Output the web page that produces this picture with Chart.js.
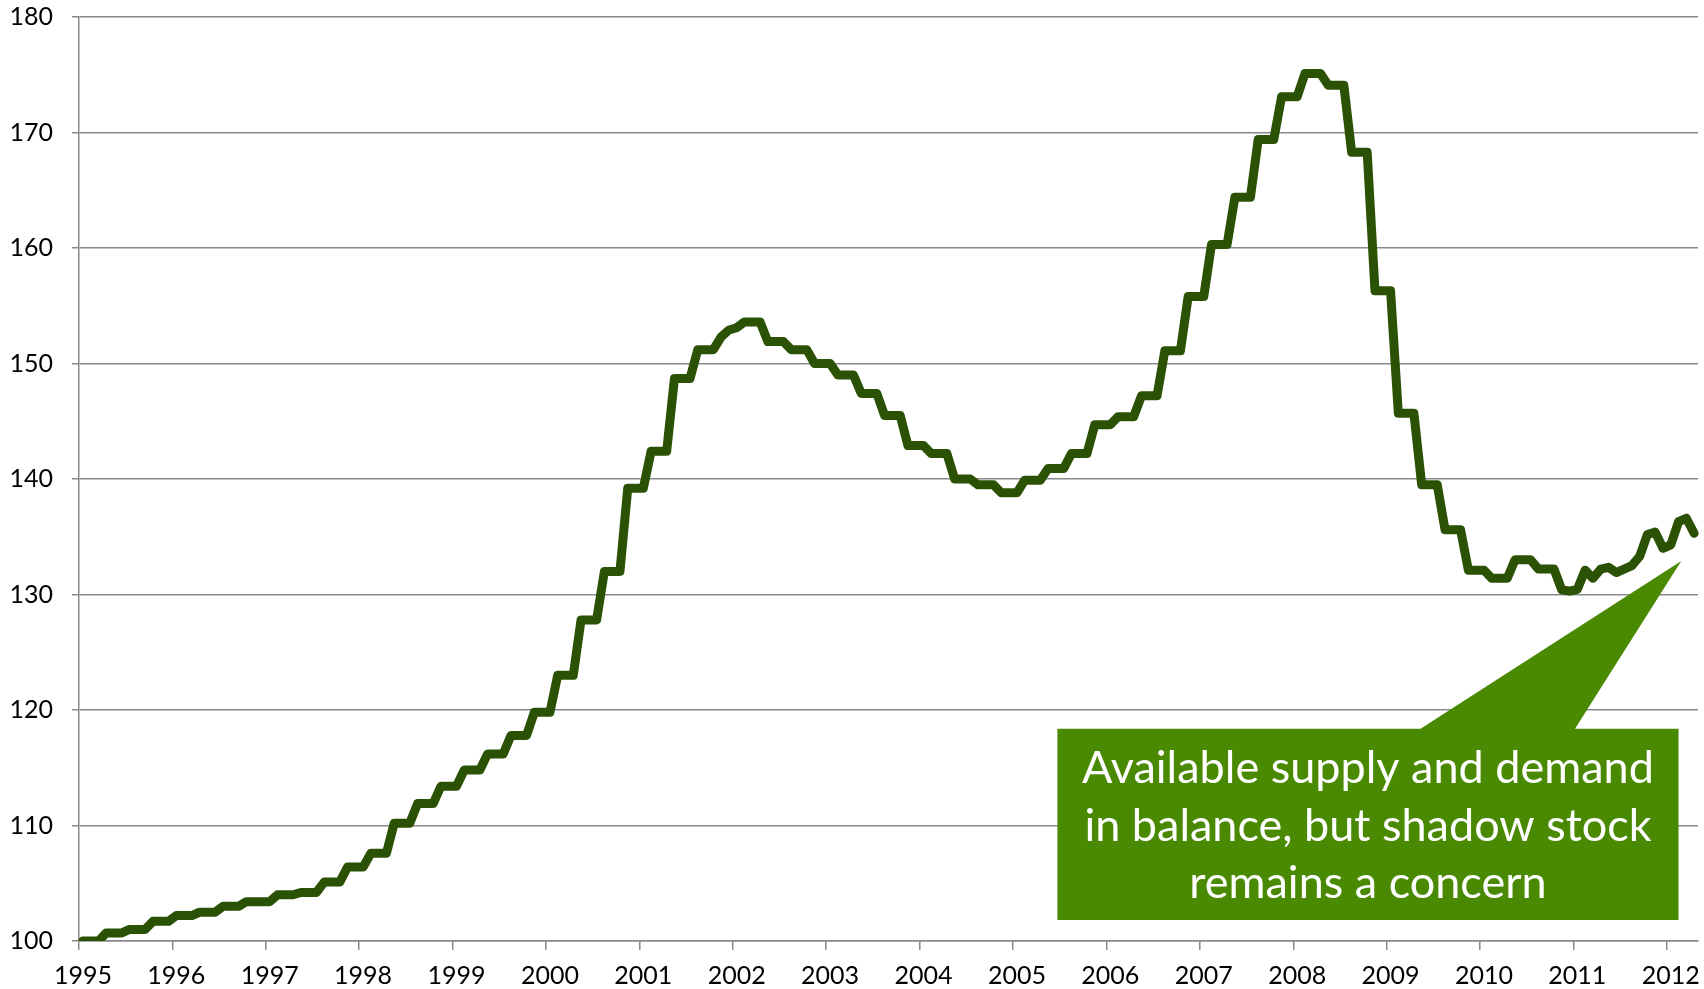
<!DOCTYPE html>
<html>
<head>
<meta charset="utf-8">
<script src="https://cdn.jsdelivr.net/npm/chart.js@4.4.1/dist/chart.umd.min.js"></script>
<style>
  html, body { margin: 0; padding: 0; background: #ffffff; }
  #wrap { width: 1704px; height: 989px; position: relative; }
</style>
</head>
<body>
<div id="wrap"><canvas id="c" width="1704" height="989"></canvas></div>
<script>
// ---- DATA ----
const years = ['1995','1996','1997','1998','1999','2000','2001','2002','2003',
               '2004','2005','2006','2007','2008','2009','2010','2011','2012'];
const monthNames = ['Jan','Feb','Mar','Apr','May','Jun','Jul','Aug','Sep','Oct','Nov','Dec'];

// Monthly index values, Jan 1995 .. Apr 2012 (208 months)
const hpi = [
  // 1995
  100.0,100.0,100.0,100.7,100.7,100.7,101.0,101.0,101.0,101.7,101.7,101.7,
  // 1996
  102.2,102.2,102.2,102.5,102.5,102.5,103.0,103.0,103.0,103.4,103.4,103.4,
  // 1997
  103.4,104.0,104.0,104.0,104.2,104.2,104.2,105.1,105.1,105.1,106.4,106.4,
  // 1998
  106.4,107.6,107.6,107.6,110.2,110.2,110.2,111.9,111.9,111.9,113.4,113.4,
  // 1999
  113.4,114.8,114.8,114.8,116.2,116.2,116.2,117.8,117.8,117.8,119.8,119.8,
  // 2000
  119.8,123.0,123.0,123.0,127.8,127.8,127.8,132.0,132.0,132.0,139.2,139.2,
  // 2001
  139.2,142.4,142.4,142.4,148.7,148.7,148.7,151.2,151.2,151.2,152.3,152.9,
  // 2002
  153.1,153.6,153.6,153.6,151.9,151.9,151.9,151.2,151.2,151.2,150.0,150.0,
  // 2003
  150.0,149.0,149.0,149.0,147.4,147.4,147.4,145.5,145.5,145.5,142.9,142.9,
  // 2004
  142.9,142.2,142.2,142.2,140.0,140.0,140.0,139.5,139.5,139.5,138.8,138.8,
  // 2005
  138.8,139.9,139.9,139.9,140.9,140.9,140.9,142.2,142.2,142.2,144.7,144.7,
  // 2006
  144.7,145.4,145.4,145.4,147.2,147.2,147.2,151.1,151.1,151.1,155.8,155.8,
  // 2007
  155.8,160.3,160.3,160.3,164.4,164.4,164.4,169.4,169.4,169.4,173.1,173.1,
  // 2008
  173.1,175.1,175.1,175.1,174.1,174.1,174.1,168.3,168.3,168.3,156.3,156.3,
  // 2009
  156.3,145.7,145.7,145.7,139.5,139.5,139.5,135.6,135.6,135.6,132.1,132.1,
  // 2010
  132.1,131.4,131.4,131.4,133.0,133.0,133.0,132.2,132.2,132.2,130.4,130.3,
  // 2011
  130.45,132.1,131.4,132.2,132.35,131.9,132.2,132.5,133.3,135.2,135.4,134.0,
  // 2012
  134.3,136.3,136.6,135.3
];

// Month categories matching the series
const categories = [];
years.forEach(y => monthNames.forEach(m => categories.push(m + ' ' + y)));
categories.length = hpi.length;

const yTicks = { min: 100, max: 180, step: 10 };

// Callout text
const noteLines = ['Available supply and demand', 'in balance, but shadow stock', 'remains a concern'];

// ---- STYLE ----
const LINE = '#2b5104';
const GRID = '#898989';
const NOTE_FILL = '#4a8a02';
const FONT = 'Lato';

// Callout geometry in data space (category index / value)
const callout = {
  left: 125.2, right: 205.0, top: 118.38, bottom: 101.82,
  baseL: 171.85, baseR: 191.7, tipX: 205.35, tipY: 132.9
};

const calloutPlugin = {
  id: 'callout',
  afterDraw(chart) {
    const c = chart.ctx, xs = chart.scales.x, ys = chart.scales.y;
    const X = v => xs.getPixelForValue(v), Y = v => ys.getPixelForValue(v);
    const l = X(callout.left), r = X(callout.right), t = Y(callout.top), b = Y(callout.bottom);
    c.save();
    c.fillStyle = NOTE_FILL;
    c.beginPath();
    c.moveTo(l, t);
    c.lineTo(X(callout.baseL), t);
    c.lineTo(X(callout.tipX), Y(callout.tipY));
    c.lineTo(X(callout.baseR), t);
    c.lineTo(r, t);
    c.lineTo(r, b);
    c.lineTo(l, b);
    c.closePath();
    c.fill();
    c.fillStyle = '#ffffff';
    c.font = '45px ' + FONT;
    c.textAlign = 'center';
    c.textBaseline = 'alphabetic';
    const cx = (l + r) / 2;
    noteLines.forEach((s, i) => c.fillText(s, cx, t + 54.6 + i * 57.5));
    c.restore();
  }
};

new Chart(document.getElementById('c').getContext('2d'), {
  type: 'line',
  data: {
    labels: categories,
    datasets: [{
      data: hpi,
      borderColor: LINE,
      borderWidth: 9,
      pointRadius: 0,
      tension: 0,
      fill: false,
      borderJoinStyle: 'round',
      borderCapStyle: 'round'
    }]
  },
  options: {
    responsive: false,
    animation: false,
    devicePixelRatio: 1,
    layout: { padding: { top: 17, right: 6, bottom: 0, left: 0 } },
    plugins: { legend: { display: false }, tooltip: { enabled: false } },
    scales: {
      x: {
        type: 'category',
        offset: true,
        grid: {
          offset: true,
          drawOnChartArea: false,
          drawTicks: true,
          tickLength: 9,
          lineWidth: 1.5,
          color: ctx => (ctx.index % 12 === 0 ? GRID : 'rgba(0,0,0,0)')
        },
        border: { display: true, color: GRID, width: 1.5 },
        ticks: {
          autoSkip: false, maxRotation: 0, minRotation: 0, padding: 11,
          color: '#000', font: { family: FONT, size: 25 },
          callback: (v, i) => (i % 12 === 0 ? years[i / 12] : '')
        },
        afterFit: s => { s.height = 48; s.paddingLeft = 0; s.paddingRight = 0; }
      },
      y: {
        min: yTicks.min, max: yTicks.max,
        grid: { color: GRID, lineWidth: 1.5, tickLength: 7 },
        border: { display: true, color: GRID, width: 1.5 },
        ticks: { stepSize: yTicks.step, padding: 19, color: '#000', font: { family: FONT, size: 25 } },
        afterFit: s => { s.width = 79; s.paddingTop = 0; s.paddingBottom = 0; }
      }
    }
  },
  plugins: [calloutPlugin]
});
</script>
</body>
</html>
